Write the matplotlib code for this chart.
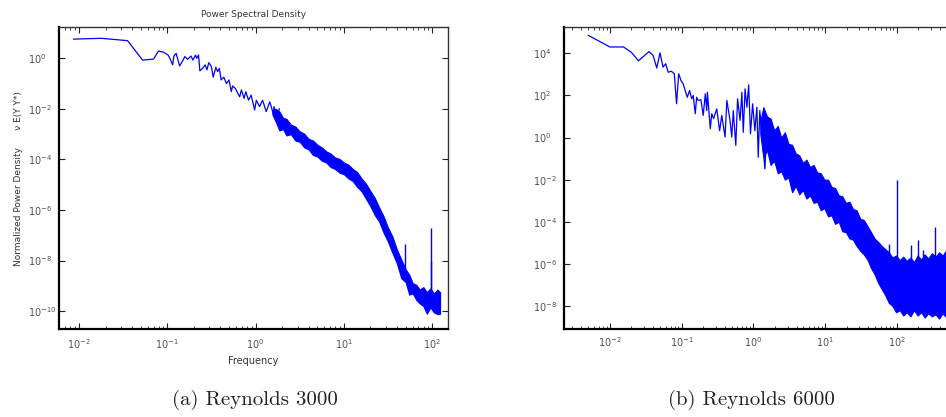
import matplotlib
matplotlib.use('Agg')
import matplotlib.pyplot as plt
from matplotlib.ticker import LogLocator, FixedLocator, NullLocator, NullFormatter

# ---------------- data: Reynolds 3000 (left) ----------------
re3_line_f = [0.0087, 0.0178, 0.0355, 0.0525, 0.070, 0.0794, 0.091, 0.102, 0.107, 0.115,
              0.119, 0.126, 0.138, 0.151, 0.158, 0.170, 0.186, 0.195, 0.209, 0.216,
              0.226, 0.234, 0.251, 0.269, 0.282, 0.295, 0.316, 0.331, 0.355, 0.372,
              0.389, 0.407, 0.437, 0.468, 0.50, 0.531, 0.55, 0.589, 0.661, 0.692,
              0.741, 0.776, 0.832, 0.891, 0.977, 1.02, 1.11, 1.20, 1.32, 1.45,
              1.58, 1.62, 1.74, 1.86]
re3_line_p = [5.75, 6.2, 5.0, 0.85, 0.93, 1.95, 1.74, 1.35, 1.0, 0.55,
              1.23, 1.58, 0.50, 0.85, 1.17, 0.91, 1.23, 0.85, 1.35, 1.0,
              1.35, 0.32, 0.40, 0.55, 0.35, 0.68, 0.47, 0.18, 0.44, 0.30,
              0.40, 0.14, 0.18, 0.10, 0.14, 0.048, 0.081, 0.065, 0.030, 0.056,
              0.026, 0.048, 0.022, 0.035, 0.0091, 0.022, 0.0123, 0.022, 0.0078, 0.019,
              0.0068, 0.0123, 0.005, 0.01]

re3_band_f = [1.55, 1.70, 1.86, 2.04, 2.24, 2.51, 2.82, 3.16, 3.55, 3.98, 4.47, 5.01,
              5.62, 6.31, 7.08, 7.94, 8.91, 10.0, 11.2, 12.6, 14.1, 15.8,
              17.8, 20.0, 22.4, 25.1, 28.2, 31.6, 35.5, 39.8, 44.7, 50.1,
              55.0, 60.3, 66.1, 72.4, 79.4, 87.1, 95.5, 104.7, 114.8, 123]
re3_band_hi = [9.0e-3, 1.0e-2, 7.9e-3, 4.5e-3, 4.0e-3, 2.4e-3, 2.0e-3, 1.3e-3, 1.05e-3, 6.6e-4, 5.6e-4, 3.8e-4,
               3.0e-4, 2.1e-4, 1.7e-4, 1.2e-4, 1.05e-4, 7.6e-5, 6.3e-5, 4.2e-5, 3.2e-5, 1.8e-5,
               1.1e-5, 5.6e-6, 3.0e-6, 1.26e-6, 5.6e-7, 2.0e-7, 8.9e-8, 2.8e-8, 1.1e-8, 4.5e-9,
               2.8e-9, 1.26e-9, 1.1e-9, 7.1e-10, 8.9e-10, 5.6e-10, 7.9e-10, 5.0e-10, 7.1e-10, 5.6e-10]
re3_band_lo = [6.0e-3, 3.0e-3, 1.4e-3, 1.6e-3, 8.9e-4, 1.0e-3, 5.6e-4, 5.0e-4, 3.0e-4, 2.5e-4, 1.5e-4, 1.3e-4,
               8.9e-5, 7.6e-5, 5.0e-5, 4.2e-5, 3.0e-5, 2.6e-5, 1.8e-5, 1.4e-5, 8.3e-6, 5.6e-6,
               2.8e-6, 1.4e-6, 6.3e-7, 3.5e-7, 1.26e-7, 5.6e-8, 2.0e-8, 7.9e-9, 2.0e-9, 1.4e-9,
               4.5e-10, 5.0e-10, 2.8e-10, 2.0e-10, 1.6e-10, 7.9e-11, 1.4e-10, 8.9e-11, 7.6e-11, 7.9e-11]

re3_spike_f = [49, 96, 98]
re3_spike_top = [4.6e-8, 1e-8, 2.0e-7]
re3_spike_base = [3e-9, 5e-10, 5e-10]

re3_yticks = [1e-10, 1e-8, 1e-6, 1e-4, 1e-2, 1e0]

# ---------------- data: Reynolds 6000 (right) ----------------
re6_line_f = [0.0050, 0.010, 0.0155, 0.020, 0.025, 0.035, 0.040, 0.045, 0.050, 0.055,
              0.060, 0.065, 0.072, 0.079, 0.085, 0.091, 0.098, 0.105, 0.112, 0.120,
              0.129, 0.138, 0.145, 0.155, 0.162, 0.170, 0.186, 0.200, 0.214, 0.224,
              0.229, 0.251, 0.263, 0.279, 0.309, 0.339, 0.363, 0.403, 0.427, 0.473,
              0.50, 0.525, 0.569, 0.603, 0.653, 0.692, 0.724, 0.767, 0.813, 0.861,
              0.912, 0.977, 1.05, 1.12, 1.17, 1.23, 1.35, 1.45, 1.55]
re6_line_p = [7.1e4, 2.0e4, 2.0e4, 1.1e4, 4.4e3, 1.2e4, 8.0e3, 2.0e3, 1.05e4, 2.2e3,
              3.2e3, 1.26e3, 1.4e3, 1.07e3, 40, 1.07e3, 510, 355, 170, 81,
              170, 69, 100, 13.5, 81, 58, 62, 11.2, 120, 19,
              141, 2.6, 13.5, 7.9, 23, 2.1, 11.2, 1.05, 58, 6.5,
              1.05, 19, 0.42, 69, 6.5, 141, 1.78, 204, 27.5, 316,
              1.5, 40, 2.1, 27.5, 0.115, 19, 0.5, 0.032, 3.1]

re6_band_f = [1.25, 1.38, 1.55, 1.74, 1.95, 2.19, 2.45, 2.75, 3.09, 3.47, 3.89,
              4.37, 4.90, 5.50, 6.17, 6.92, 7.76, 8.71, 9.77, 11.0, 12.3,
              13.8, 15.5, 17.4, 19.5, 21.9, 24.5, 27.5, 30.9, 34.7, 38.9,
              43.7, 49.0, 55.0, 61.7, 69.2, 77.6, 87.1, 97.7, 110, 123,
              138, 155, 174, 195, 219, 245, 275, 309, 347, 389,
              437, 490, 550, 631, 724]
re6_band_hi = [6.0, 27.5, 10, 7.9, 2.2, 3.5, 1.0, 1.78, 0.5, 0.45, 0.178,
               0.141, 0.063, 0.089, 0.04, 0.05, 0.022, 0.02, 0.01, 0.01, 4.5e-3,
               4.0e-3, 1.8e-3, 1.6e-3, 7.9e-4, 8.9e-4, 4.0e-4, 3.5e-4, 1.4e-4, 1.2e-4, 6.3e-5,
               3.2e-5, 1.6e-5, 1.1e-5, 7.1e-6, 5.0e-6, 3.5e-6, 2.0e-6, 2.5e-6, 1.5e-6, 2.2e-6,
               1.4e-6, 2.0e-6, 1.2e-6, 2.5e-6, 1.6e-6, 2.8e-6, 1.8e-6, 3.2e-6, 2.2e-6, 3.5e-6,
               2.5e-6, 4.5e-6, 3.2e-6, 4.0e-6, 3.5e-6]
re6_band_lo = [1.5, 0.115, 0.25, 0.05, 0.079, 0.02, 0.025, 0.01, 0.0126, 2.5e-3, 5.0e-3,
               2.0e-3, 3.2e-3, 1.26e-3, 1.8e-3, 7.9e-4, 8.9e-4, 3.5e-4, 4.5e-4, 1.8e-4, 2.0e-4,
               7.9e-5, 1.0e-4, 3.5e-5, 3.2e-5, 1.6e-5, 1.4e-5, 7.1e-6, 4.2e-6, 2.8e-6, 1.6e-6,
               6.3e-7, 3.2e-7, 1.26e-7, 6.3e-8, 3.2e-8, 1.4e-8, 1.0e-8, 5.0e-9, 6.3e-9, 3.5e-9,
               5.0e-9, 3.2e-9, 6.3e-9, 3.5e-9, 5.0e-9, 2.8e-9, 4.5e-9, 3.2e-9, 4.0e-9, 2.5e-9,
               4.5e-9, 2.8e-9, 4.0e-9, 3.2e-9, 3.5e-9]

re6_spike_f = [77, 100, 160, 200, 234, 339]
re6_spike_top = [9e-6, 9.1e-3, 8e-6, 1.4e-5, 4.3e-6, 5.5e-5]
re6_spike_base = [1e-6, 1e-6, 1e-6, 1e-6, 1e-6, 1e-6]

re6_yticks = [1e-8, 1e-6, 1e-4, 1e-2, 1e0, 1e2, 1e4]

xticks_major = [1e-2, 1e-1, 1e0, 1e1, 1e2, 1e3]

captions = ['(a) Reynolds 3000', '(b) Reynolds 6000']

# ---------------- figure ----------------
plt.rcParams['font.family'] = ['DejaVu Sans']
plt.rcParams['mathtext.fontset'] = 'dejavusans'

BLUE = '#0000ff'
fig = plt.figure(figsize=(9.46, 4.17), dpi=100)
ax1 = fig.add_axes([0.0624, 0.2103, 0.4112, 0.725])
ax2 = fig.add_axes([0.5962, 0.2118, 0.42, 0.7235])


def style(ax, yticks, ypad, xpad):
    ax.set_xscale('log')
    ax.set_yscale('log')
    ax.xaxis.set_major_locator(FixedLocator(xticks_major))
    ax.xaxis.set_minor_locator(LogLocator(base=10, subs=[2, 3, 4, 5, 6, 7, 8, 9], numticks=30))
    ax.xaxis.set_minor_formatter(NullFormatter())
    ax.yaxis.set_major_locator(FixedLocator(yticks))
    ax.yaxis.set_minor_locator(NullLocator())
    ax.tick_params(which='both', direction='in', top=True, right=True,
                   labelsize=7, labelcolor='#505050', color='#222222')
    ax.tick_params(which='major', length=4, width=0.8)
    ax.tick_params(which='minor', length=2, width=0.6)
    ax.tick_params(axis='y', pad=ypad)
    ax.tick_params(axis='x', pad=xpad)
    for lab in ax.get_yticklabels():
        lab.set_horizontalalignment('left')
    for s in ['left', 'bottom']:
        ax.spines[s].set_linewidth(1.6)
        ax.spines[s].set_color('black')
    for s in ['top', 'right']:
        ax.spines[s].set_linewidth(1.0)
        ax.spines[s].set_color('#333333')


# left panel
ax1.plot(re3_line_f, re3_line_p, color=BLUE, lw=0.9)
ax1.fill_between(re3_band_f, re3_band_lo, re3_band_hi, color=BLUE, lw=0.8, edgecolor=BLUE)
ax1.vlines(re3_spike_f, re3_spike_base, re3_spike_top, color=BLUE, lw=1.0)
ax1.set_xlim(10 ** -2.226, 10 ** 2.18)
ax1.set_ylim(10 ** -10.72, 10 ** 1.24)
style(ax1, re3_yticks, 22.3, 6)
ax1.set_title('Power Spectral Density', fontsize=6.5, color='#333333', pad=7)
ax1.set_xlabel('Frequency', fontsize=7, color='#333333', labelpad=3)
ax1.set_ylabel('Normalized Power Density      \u03bd E(Y Y*)', fontsize=6.5, color='#333333')
ax1.yaxis.set_label_coords(-0.092, 0.5)

# right panel
ax2.plot(re6_line_f, re6_line_p, color=BLUE, lw=0.9)
ax2.fill_between(re6_band_f, re6_band_lo, re6_band_hi, color=BLUE, lw=0.8, edgecolor=BLUE)
ax2.vlines(re6_spike_f, re6_spike_base, re6_spike_top, color=BLUE, lw=1.0)
ax2.set_xlim(10 ** -2.64, 10 ** 2.9)
ax2.set_ylim(10 ** -9.08, 10 ** 5.25)
style(ax2, re6_yticks, 22.3, 5)

fig.text(255 / 946, 1 - 400 / 417, captions[0], family='cmr10', fontsize=15,
         ha='center', va='center', color='#222222')
fig.text(751 / 946, 1 - 400 / 417, captions[1], family='cmr10', fontsize=15,
         ha='center', va='center', color='#222222')

fig.savefig('out.png', dpi=100)
